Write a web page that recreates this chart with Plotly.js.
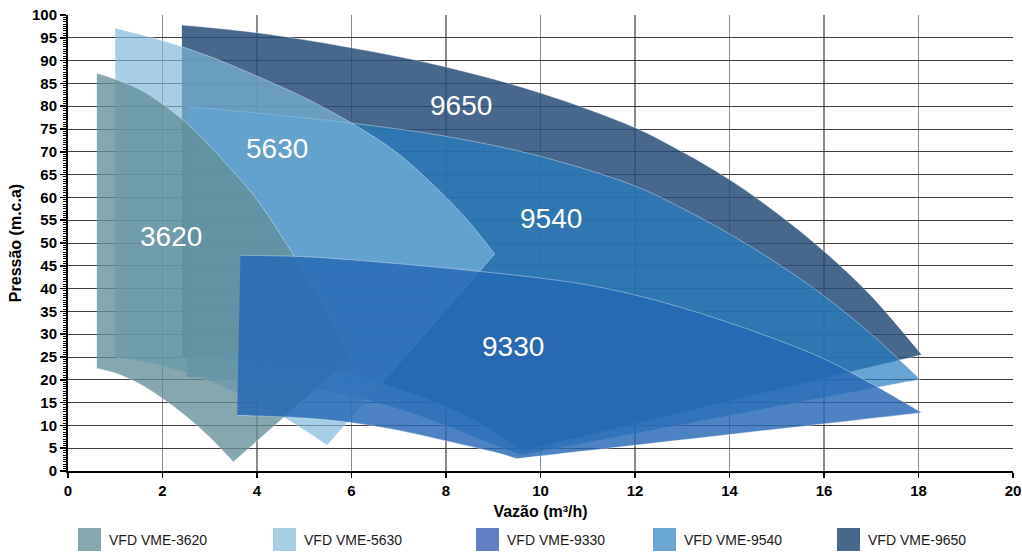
<!DOCTYPE html>
<html><head><meta charset="utf-8">
<script src="https://cdn.plot.ly/plotly-3.0.1.min.js"></script>
<style>html,body{margin:0;padding:0;background:#fff;} #chart{width:1022px;height:554px;}</style>
</head><body><div id="chart"></div>
<script>
// ---- data (flow in m3/h, head in m.c.a) : edges of each operating region ----
const seriesNames = ['VFD VME-3620','VFD VME-5630','VFD VME-9330','VFD VME-9540','VFD VME-9650'];
const regionLabels = ['3620','5630','9330','9540','9650'];

// upper curve: from top-left corner to right tip
const top3620Flow = [0.61,1.0,1.5,2.0,2.5,3.0,3.5,4.0,4.5,5.0,5.5,6.0];
const top3620Head = [87.2,85.9,83.8,80.5,76.4,71.3,65.6,59.5,51.8,43.6,34.6,24.8];
// lower curve: from bottom tip back to bottom-left corner
const bot3620Flow = [3.5,3.0,2.5,2.0,1.5,1.0,0.61];
const bot3620Head = [2.0,7.4,12.0,15.9,19.2,21.5,22.5];

const top5630Flow = [1.0,2,3,4,5,6,7,8,8.5,9.03];
const top5630Head = [97.1,94.4,90.9,86.6,81.9,76.3,69.5,60.0,54.5,47.6];
const bot5630Flow = [5.49,5,4.5,4,3,2,1.0];
const bot5630Head = [5.6,9.0,12.2,15.0,19.7,23.0,25.0];

const top9330Flow = [3.65,5,6,8,10,11,12,13,14,15,16,17,18.07];
const top9330Head = [47.3,47.0,46.3,44.5,42.3,40.8,38.6,35.8,32.5,28.8,24.6,19.2,12.8];
const bot9330Flow = [9.5,9,8,7,6,5,3.58];
const bot9330Head = [2.7,4.2,6.6,8.9,10.6,11.6,12.2];

const top9540Flow = [2.52,4,6,8,10,12,13,14,15,16,17,18.04];
const top9540Head = [79.9,78.5,76.3,73.4,69.0,62.5,57.6,52.0,45.6,38.4,30.0,20.1];
const bot9540Flow = [9.6,8.9,8,7,6,5,4,3.5,2.52];
const bot9540Head = [3.5,6.2,10.0,13.6,16.4,18.4,19.6,20.1,20.6];

const top9650Flow = [2.41,4,6,8,10,12,13,14,15,16,17,18.07];
const top9650Head = [97.8,96.1,92.8,88.6,82.9,75.3,70.0,63.9,56.6,48.2,38.4,25.5];
const bot9650Flow = [9.62,8.8,8,7,6,5,4,3,2.41];
const bot9650Head = [4.4,10.0,14.2,18.0,21.2,23.0,24.2,24.8,25.0];

// label anchor points (flow, head)
const labelFlow = [2.17,4.43,9.42,10.23,8.32];
const labelHead = [51.4,70.7,27.3,55.4,80.2];

const xTicks = [0,2,4,6,8,10,12,14,16,18,20];

// ---- styles ----
const fills = {
  '3620':'rgba(97,142,154,0.78)',
  '5630':'rgba(124,183,218,0.68)',
  '9330':'rgba(38,104,181,0.82)',
  '9540':'rgba(40,126,192,0.7)',
  '9650':'rgba(37,77,120,0.85)'
};
const legendColors = ['#84a7b0','#a6cfe6','#5e7fc2','#6ba5d2','#46688c'];
const FONT = 'Liberation Sans, Arial, Helvetica, sans-serif';

// outline: top-left corner -> upper curve -> right tip -> bottom tip -> lower curve -> bottom-left corner
// (fill 'toself' closes the straight left edge). Inner corners are doubled so the spline keeps them sharp.
function outline(tf, th, bf, bh) {
  const n = tf.length, m = bf.length;
  return {
    x: [tf[0], ...tf, tf[n-1], bf[0], ...bf, bf[m-1]],
    y: [th[0], ...th, th[n-1], bh[0], ...bh, bh[m-1]]
  };
}
const regions = {
  '3620': outline(top3620Flow, top3620Head, bot3620Flow, bot3620Head),
  '5630': outline(top5630Flow, top5630Head, bot5630Flow, bot5630Head),
  '9330': outline(top9330Flow, top9330Head, bot9330Flow, bot9330Head),
  '9540': outline(top9540Flow, top9540Head, bot9540Flow, bot9540Head),
  '9650': outline(top9650Flow, top9650Head, bot9650Flow, bot9650Head)
};
const drawOrder = ['9650','9540','5630','3620','9330'];
const traces = drawOrder.map(k => ({
  type:'scatter', mode:'lines', x:regions[k].x, y:regions[k].y,
  fill:'toself', fillcolor:fills[k],
  line:{color:'rgba(255,255,255,0.55)', width:0.7, shape:'spline', smoothing:1, simplify:false},
  name:seriesNames[regionLabels.indexOf(k)], showlegend:false, hoverinfo:'skip'
}));

const M = {l:68, r:9, t:15, b:83};
const W = 1022, H = 554;
const pw = W - M.l - M.r, ph = H - M.t - M.b;
const px2x = p => (p - M.l)/pw;
const py2y = p => (H - M.b - p)/ph;

const annotations = regionLabels.map((lab,i) => ({
  x:labelFlow[i], y:labelHead[i], xref:'x', yref:'y', text:lab, showarrow:false,
  font:{family:FONT, size:28, color:'#ffffff'}
}));

// manual legend (square swatches)
const swatchLeft = [78, 273, 476, 653, 837];
const shapes = [];
seriesNames.forEach((nm,i) => {
  shapes.push({type:'rect', xref:'paper', yref:'paper',
    x0:px2x(swatchLeft[i]), x1:px2x(swatchLeft[i]+23), y0:py2y(551), y1:py2y(528),
    fillcolor:legendColors[i], line:{width:0}});
  annotations.push({xref:'paper', yref:'paper', x:px2x(swatchLeft[i]+29), y:py2y(540),
    xanchor:'left', yanchor:'middle', text:nm, showarrow:false,
    font:{family:FONT, size:14, color:'#1a1a1a'}});
});

const layout = {
  width:W, height:H, margin:M, paper_bgcolor:'#fff', plot_bgcolor:'#fff',
  showlegend:false,
  xaxis:{range:[0,20], tickvals:xTicks, showgrid:true, gridcolor:'#8a8a8a', gridwidth:1.5,
    zeroline:false, showline:true, linecolor:'#000', linewidth:2,
    ticks:'outside', ticklen:5, tickwidth:1.5, tickcolor:'#000',
    tickfont:{family:FONT, size:15, color:'#000', weight:'bold'},
    title:{text:'Vazão (m³/h)', font:{family:FONT, size:16, color:'#000', weight:'bold'}, standoff:8}},
  yaxis:{range:[0,100], dtick:5, tick0:0, showgrid:true, gridcolor:'#3c3c3c', gridwidth:1,
    zeroline:false, showline:true, linecolor:'#000', linewidth:2,
    ticks:'outside', ticklen:6, tickwidth:1.5, tickcolor:'#000',
    minor:{dtick:0.5, ticks:'outside', ticklen:3, tickcolor:'#000', tickwidth:1, showgrid:false},
    tickfont:{family:FONT, size:15, color:'#000', weight:'bold'},
    title:{text:'Pressão (m.c.a)', font:{family:FONT, size:16, color:'#000', weight:'bold'}, standoff:6}},
  annotations:annotations, shapes:shapes
};

Plotly.newPlot('chart', traces, layout, {staticPlot:true, displayModeBar:false});
</script>
</body></html>
